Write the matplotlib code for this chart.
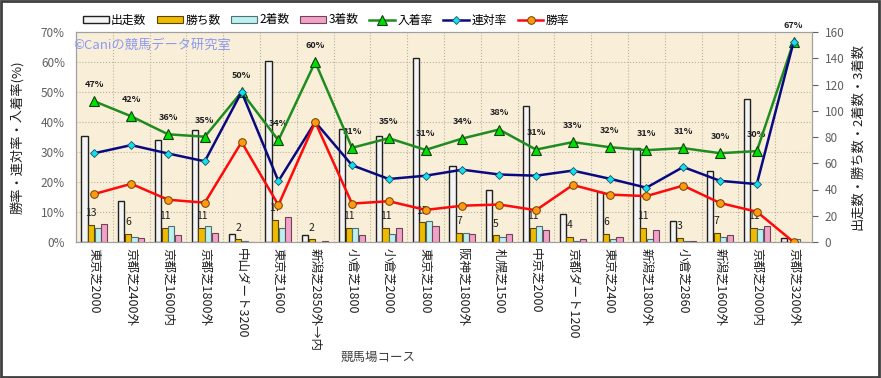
import numpy as np
import matplotlib.pyplot as plt
from matplotlib.patches import Rectangle
from matplotlib.ticker import FuncFormatter

plt.rcParams['font.family'] = ['Noto Sans CJK JP', 'DejaVu Sans']

# data
courses = ["東京芝2000", "京都芝2400外", "京都芝1600内", "京都芝1800外", "中山ダート3200",
           "東京芝1600", "新潟芝2850外→内", "小倉芝1800", "小倉芝2000", "東京芝1800",
           "阪神芝1800外", "札幌芝1500", "中京芝2000", "京都ダート1200", "東京芝2400",
           "新潟芝1800外", "小倉芝2860", "新潟芝1600外", "京都芝2000内", "京都芝3200外"]
runs = [81, 31, 78, 85, 6, 138, 5, 86, 81, 140, 58, 40, 104, 21, 38, 72, 16, 54, 109, 3]
wins = [13, 6, 11, 11, 2, 17, 2, 11, 11, 15, 7, 5, 11, 4, 6, 11, 3, 7, 11, 0]
seconds = [11, 4, 12, 12, 1, 11, 0, 11, 6, 16, 7, 4, 12, 1, 2, 2, 1, 4, 10, 2]
thirds = [14, 3, 5, 7, 0, 19, 1, 5, 11, 12, 6, 6, 9, 2, 4, 9, 1, 5, 12, 0]
place_rate = [46.9, 41.9, 35.9, 35.1, 50.0, 33.9, 60.0, 31.4, 34.6, 30.7,
              34.5, 37.5, 30.8, 33.3, 31.6, 30.6, 31.3, 29.6, 30.3, 66.7]
quinella_rate = [29.6, 32.3, 29.5, 26.9, 50.0, 20.3, 40.0, 25.6, 21.0, 22.1,
                 24.1, 22.5, 22.1, 23.8, 21.1, 18.1, 25.0, 20.4, 19.3, 66.7]
win_rate = [16.0, 19.4, 14.1, 13.1, 33.3, 12.3, 40.0, 12.8, 13.6, 10.7,
            12.1, 12.5, 10.6, 19.0, 15.8, 15.3, 18.8, 13.0, 10.1, 0.0]
place_labels = ["47%", "42%", "36%", "35%", "50%", "34%", "60%", "31%", "35%", "31%",
                "34%", "38%", "31%", "33%", "32%", "31%", "31%", "30%", "30%", "67%"]

x = np.arange(len(courses))
w = 0.17

fig = plt.figure(figsize=(8.81, 3.78), dpi=100)
ax = fig.add_axes([76/881, 1-242/378, 736/881, 210/378])
axl = ax.twinx()
ax.set_facecolor('#F9EFD9')

# bars (right axis)
ax.bar(x - 0.27, runs, w, color='#F4F4F4', edgecolor='#202020', lw=1.0, label='出走数', zorder=3)
ax.bar(x - 0.09, wins, w, color='#EEBB00', edgecolor='#5a4500', lw=0.8, label='勝ち数', zorder=3)
ax.bar(x + 0.09, seconds, w, color='#BDF0F0', edgecolor='#4f6f70', lw=0.8, label='2着数', zorder=3)
ax.bar(x + 0.27, thirds, w, color='#F2A2C8', edgecolor='#6f4358', lw=0.8, label='3着数', zorder=3)
for xi, v in zip(x, wins):
    if v > 0:
        ax.annotate(str(v), (xi - 0.09, v), xytext=(0, 8.5), textcoords='offset points',
                    ha='center', va='center', fontsize=7.5, color='#202020', zorder=5)

ax.set_xlim(-0.5, len(courses) - 0.5)
ax.set_ylim(0, 160)
ax.set_yticks(np.arange(0, 161, 20))
ax.yaxis.tick_right()
ax.yaxis.set_label_position('right')
ax.set_ylabel('出走数・勝ち数・2着数・3着数', fontsize=9.5, rotation=90, labelpad=5, color='#202020')
ax.set_yticks(np.linspace(0, 160, 8), minor=True)
ax.set_xticks(x)
ax.set_xticks(np.arange(-0.5, len(courses), 1), minor=True)
ax.set_xticklabels(courses, rotation=270, fontsize=9, color='#202020', va='top', ha='center')
ax.tick_params(axis='x', which='both', length=0, pad=4)
ax.tick_params(axis='y', which='minor', length=0)
ax.tick_params(axis='y', which='major', labelsize=8.5, colors='#606060', length=4, pad=5)
ax.grid(which='minor', color='#B8B0A0', ls=':', lw=0.8, zorder=0)
ax.set_xlabel('競馬場コース', fontsize=9, color='#404040')
ax.xaxis.set_label_coords(0.41, -0.52)
for s in ax.spines.values():
    s.set_color('#A0A0A0')

# lines (left axis)
axl.yaxis.tick_left()
axl.yaxis.set_label_position('left')
axl.plot(x, place_rate, color='#1E8C1E', lw=1.8, marker='^', ms=7, mfc='#00E000',
         mec='#104010', mew=0.8, label='入着率', zorder=4)
axl.plot(x, quinella_rate, color='#0A0A80', lw=1.8, marker='D', ms=4.5, mfc='#10E0F0',
         mec='#205060', mew=0.6, label='連対率', zorder=4)
axl.plot(x, win_rate, color='#FF0A0A', lw=1.8, marker='o', ms=5.5, mfc='#FF9A10',
         mec='#704000', mew=0.7, label='勝率', zorder=4)
for xi, v, t in zip(x, place_rate, place_labels):
    axl.annotate(t, (xi, v), xytext=(0, 12), textcoords='offset points', ha='center',
                 va='center', fontsize=6.5, fontweight='bold', color='#202020')
axl.set_ylim(0, 70)
axl.set_yticks(np.arange(0, 71, 10))
axl.yaxis.set_major_formatter(FuncFormatter(lambda v, p: f"{v:.0f}%"))
axl.tick_params(axis='y', labelsize=8.5, colors='#606060', length=0, pad=8)
axl.set_ylabel('勝率・連対率・入着率(%)', fontsize=9.5, labelpad=12, color='#202020')
for s in axl.spines.values():
    s.set_color('#A0A0A0')

fig.text(73/881, 1-45/378, '©Caniの競馬データ研究室', fontsize=9.5, color='#8C9AF0',
         va='center', ha='left')

h1, l1 = ax.get_legend_handles_labels()
h2, l2 = axl.get_legend_handles_labels()
fig.legend(h1 + h2, l1 + l2, loc='center', bbox_to_anchor=(326/881, 1-20/378), ncol=7,
           frameon=False, fontsize=8.5, handlelength=2.2, handleheight=0.5,
           columnspacing=0.9, handletextpad=0.2)

fig.patches.append(Rectangle((0.001, 0.002), 0.997, 0.995, transform=fig.transFigure,
                             fill=False, edgecolor='#404040', lw=2))

fig.savefig('out.png', dpi=100)
